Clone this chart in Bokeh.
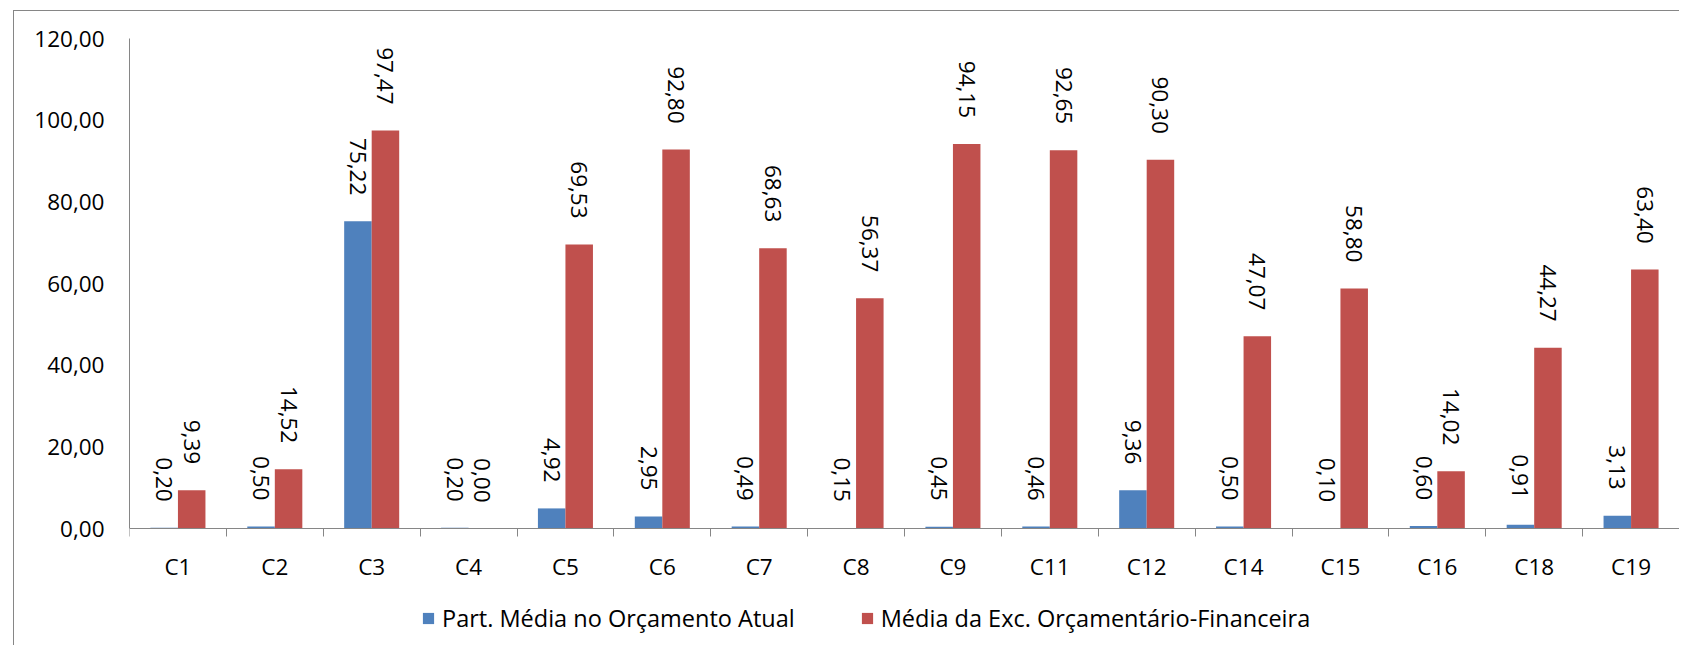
import math
from bokeh.plotting import figure
from bokeh.models import (ColumnDataSource, Range1d, FixedTicker, Legend,
                          LegendItem, LinearAxis)
from bokeh.core.properties import value
from bokeh.embed import file_html
from bokeh.resources import INLINE

# ---- data ----
categories = ["C1", "C2", "C3", "C4", "C5", "C6", "C7", "C8", "C9",
              "C11", "C12", "C14", "C15", "C16", "C18", "C19"]
part_media = [0.20, 0.50, 75.22, 0.20, 4.92, 2.95, 0.49, 0.15, 0.45,
              0.46, 9.36, 0.50, 0.10, 0.60, 0.91, 3.13]
media_exec = [9.39, 14.52, 97.47, 0.00, 69.53, 92.80, 68.63, 56.37, 94.15,
              92.65, 90.30, 47.07, 58.80, 14.02, 44.27, 63.40]
y_ticks = [0, 20, 40, 60, 80, 100, 120]
series_names = ["Part. Média no Orçamento Atual",
                "Média da Exc. Orçamentário-Financeira"]

BLUE = "#4F81BD"
RED = "#C0504D"
AXIS = "#868686"
FONT = "Open Sans"
FS = "22.5px"
FS_LEG = "23.5px"

def fmt(v):
    return f"{v:.2f}".replace(".", ",")

n = len(categories)
bw = 0.284
centers = [i + 0.5 for i in range(n)]

# layout (pixels)
W, H = 1666, 635
MB_TOP, MB_BOTTOM = 27, 5
AXIS_PX = 490.0                     # pixel height of the 0..120 value axis
frame_h = H - MB_TOP - MB_BOTTOM
y_top = y_ticks[-1]
y_start = y_top - frame_h * (y_top - y_ticks[0]) / AXIS_PX

src_a = ColumnDataSource(dict(x=[c - bw / 2 for c in centers], top=part_media,
                              lbl=[fmt(v) for v in part_media]))
src_b = ColumnDataSource(dict(x=[c + bw / 2 for c in centers], top=media_exec,
                              lbl=[fmt(v) for v in media_exec]))

p = figure(width=W, height=H, output_backend="svg", toolbar_location=None,
           x_range=Range1d(0, n), y_range=Range1d(y_start, y_top),
           min_border_left=115, min_border_right=1, min_border_top=MB_TOP,
           min_border_bottom=MB_BOTTOM, x_axis_location=None,
           styles={"border-top": "1px solid #868686",
                   "border-left": "1px solid #868686",
                   "margin-left": "13px", "margin-top": "10px"})
p.outline_line_color = None
p.xgrid.visible = False
p.ygrid.visible = False
p.background_fill_color = "white"
p.border_fill_color = "white"

ra = p.vbar(x="x", top="top", width=bw, bottom=0, source=src_a,
            fill_color=BLUE, line_color=None)
rb = p.vbar(x="x", top="top", width=bw, bottom=0, source=src_b,
            fill_color=RED, line_color=None)

for s in (src_a, src_b):
    p.text(x="x", y="top", text="lbl", source=s, angle=-math.pi / 2,
           text_align="right", text_baseline="middle", y_offset=-26,
           text_font=value(FONT), text_font_size=FS, text_color="black")

# x axis, fixed at value 0
xa = LinearAxis(fixed_location=0)
p.add_layout(xa, "below")
xa.ticker = FixedTicker(ticks=centers, minor_ticks=list(range(n + 1)))
xa.major_label_overrides = {c: categories[i] for i, c in enumerate(centers)}
xa.major_tick_out = 0
xa.major_tick_in = 0
xa.minor_tick_out = 8
xa.minor_tick_in = 0
xa.minor_tick_line_color = AXIS
xa.axis_line_color = AXIS
xa.major_label_standoff = 14
xa.major_label_text_font = FONT
xa.major_label_text_font_size = FS
xa.major_label_text_color = "black"

# y axis
ya = p.yaxis[0]
ya.bounds = (y_ticks[0], y_ticks[-1])
ya.ticker = FixedTicker(ticks=y_ticks, minor_ticks=[])
ya.major_label_overrides = {t: fmt(t) for t in y_ticks}
ya.major_tick_out = 0
ya.major_tick_in = 0
ya.minor_tick_out = 0
ya.minor_tick_in = 0
ya.axis_line_color = AXIS
ya.major_label_standoff = 25
ya.major_label_text_font = FONT
ya.major_label_text_font_size = FS
ya.major_label_text_color = "black"

legend = Legend(items=[LegendItem(label=series_names[0], renderers=[ra]),
                       LegendItem(label=series_names[1], renderers=[rb])],
                orientation="horizontal", location=(292, 7),
                glyph_width=14, glyph_height=14, label_standoff=7,
                spacing=65, padding=0, margin=0, label_height=14,
                label_text_font=FONT, label_text_font_size=FS_LEG,
                label_text_color="black", border_line_color=None,
                background_fill_alpha=0)
p.add_layout(legend, "center")

open("out.html", "w").write(file_html(p, INLINE))
